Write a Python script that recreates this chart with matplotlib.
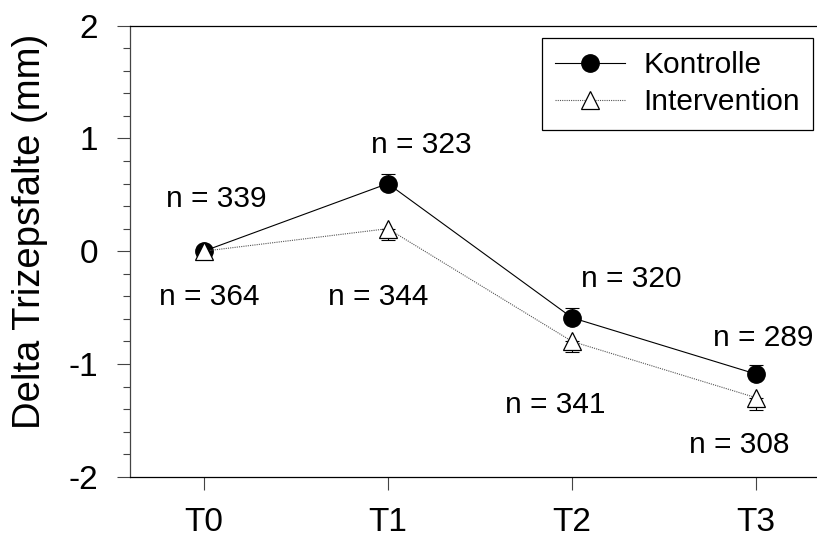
import numpy as np
import matplotlib
matplotlib.use("Agg")
import matplotlib.pyplot as plt
from matplotlib.ticker import MultipleLocator

plt.rcParams['font.family'] = ['Liberation Sans', 'DejaVu Sans']

times = ['T0', 'T1', 'T2', 'T3']
kontrolle = [0.0, 0.60, -0.59, -1.09]
kontrolle_err = [0.0, 0.086, 0.086, 0.08]
intervention = [0.0, 0.20, -0.80, -1.30]
intervention_err = [0.0, 0.104, 0.096, 0.105]

n_labels = ['n = 339', 'n = 364', 'n = 323', 'n = 344',
            'n = 320', 'n = 341', 'n = 289', 'n = 308']
n_x = [0.07, 0.03, 1.18, 0.95, 2.32, 1.91, 3.04, 2.91]
n_y = [0.389, -0.481, 0.869, -0.481, -0.321, -1.432, -0.837, -1.787]

x = np.arange(len(times))

fig = plt.figure(figsize=(8.17, 5.45), dpi=100)
ax = fig.add_axes([130 / 817, 1 - 476.7 / 545, 687 / 817, 451 / 545])

# error bars: only upwards for Kontrolle, only downwards for Intervention
zeros = np.zeros(len(x))
ax.errorbar(x, kontrolle, yerr=[zeros, kontrolle_err], fmt='none',
            ecolor='black', elinewidth=0.8, capsize=4.7, capthick=0.8, zorder=1)
ax.errorbar(x, intervention, yerr=[intervention_err, zeros], fmt='none',
            ecolor='black', elinewidth=0.8, capsize=4.7, capthick=0.8, zorder=1)

ax.plot(x, kontrolle, color='black', lw=0.8, marker='o', markersize=12.5,
        markerfacecolor='black', markeredgecolor='black', label='Kontrolle', zorder=3)
ax.plot(x, intervention, color='#555555', lw=0.8, linestyle=(0, (1, 1)),
        marker='^', markersize=13.5, markerfacecolor='white',
        markeredgecolor='black', markeredgewidth=0.9, label='Intervention', zorder=4)

for lab, tx, ty in zip(n_labels, n_x, n_y):
    ax.text(tx, ty, lab, ha='center', va='baseline', fontsize=21.5)

ax.set_xlim(-0.4, 3.33)
ax.set_ylim(-2, 2)
ax.set_xticks(x)
ax.set_xticklabels(times)
ax.yaxis.set_major_locator(MultipleLocator(1))
ax.yaxis.set_minor_locator(MultipleLocator(0.2))
ax.yaxis.set_major_formatter(plt.FuncFormatter(lambda v, p: '%d' % v))

ax.tick_params(axis='both', which='major', direction='out', length=9.5,
               width=0.8, labelsize=24, color='#444444')
ax.tick_params(axis='y', which='major', pad=13.5)
ax.tick_params(axis='x', which='major', pad=12)
ax.tick_params(axis='y', which='minor', direction='out', length=5,
               width=0.8, color='#444444')

ax.spines['right'].set_visible(False)
for s in ['left', 'bottom', 'top']:
    ax.spines[s].set_linewidth(0.9)
ax.spines['left'].set_color('#444444')

ax.set_ylabel('Delta Trizepsfalte (mm)', fontsize=27.5)
ax.yaxis.set_label_coords(-0.119, 0.545)

leg = ax.legend(loc='upper left', bbox_to_anchor=(542 / 817, 1 - 38 / 545),
                bbox_transform=fig.transFigure, borderaxespad=0,
                fontsize=21.5, frameon=True, fancybox=False, framealpha=1,
                edgecolor='black', handlelength=2.34, handletextpad=0.6,
                borderpad=0.45, labelspacing=0.3)
leg.get_frame().set_linewidth(0.9)

fig.savefig('out.png', dpi=100)
